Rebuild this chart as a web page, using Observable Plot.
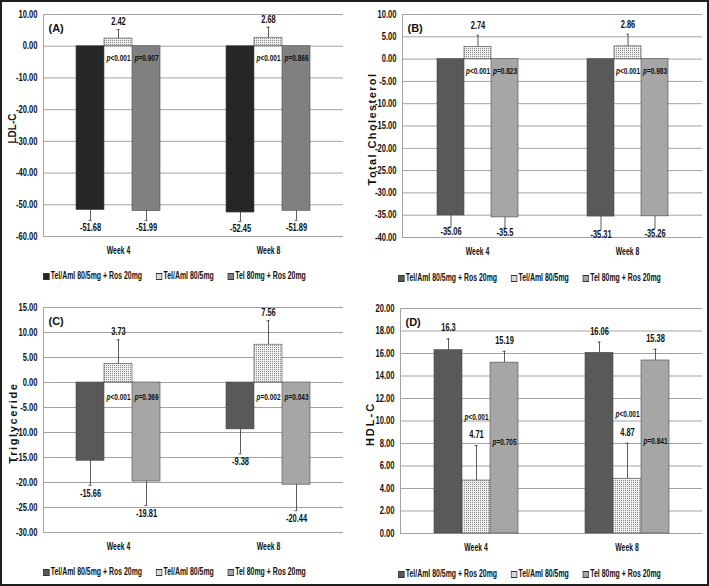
<!DOCTYPE html>
<html><head><meta charset="utf-8">
<script src="https://cdn.jsdelivr.net/npm/d3@7"></script>
<script src="https://cdn.jsdelivr.net/npm/@observablehq/plot@0.6"></script>
<style>
body{margin:0;background:#fff;}
#wrap{position:relative;width:709px;height:586px;background:#fff;overflow:hidden;}
.panel{position:absolute;}
.frameborder{position:absolute;left:0;top:0;width:709px;height:586px;border:2px solid #1e1e1e;box-sizing:border-box;pointer-events:none;}
.legend{position:absolute;height:12px;display:flex;justify-content:center;align-items:center;gap:22px;
  font-family:'Liberation Sans',Arial,sans-serif;font-weight:bold;font-size:11px;color:#111;white-space:nowrap;
  transform:scaleX(0.63);transform-origin:50% 50%;}
.legend .sw{display:inline-block;width:8px;height:5px;border:1px solid #333;margin-right:2px;vertical-align:middle;}
</style></head>
<body>
<svg width="0" height="0" style="position:absolute">
  <defs>
    <pattern id="dots" width="2" height="2" patternUnits="userSpaceOnUse">
      <rect width="2" height="2" fill="#eeeeee"></rect>
      <rect width="1" height="1" fill="#8c8c8c"></rect>
    </pattern>
  </defs>
</svg>
<div id="wrap"></div>
<script>
const weeks = ["Week 4", "Week 8"];
const series = ["Tel/Aml 80/5mg + Ros 20mg", "Tel/Aml 80/5mg", "Tel 80mg + Ros 20mg"];

// (A) LDL-C
const ldlValues = [[-51.68, 2.42, -51.99], [-52.45, 2.68, -51.89]];
const ldlErrors = [[3.3, 2.8, 3.0], [2.8, 3.3, 3.0]];
const ldlP2 = ["p<0.001", "p<0.001"];
const ldlP3 = ["p=0.907", "p=0.866"];
const ldlTicks = [10, 0, -10, -20, -30, -40, -50, -60];

// (B) Total Cholesterol
const tcValues = [[-35.06, 2.74, -35.5], [-35.31, 2.86, -35.26]];
const tcErrors = [[2.5, 2.6, 2.3], [3.0, 2.7, 2.7]];
const tcP2 = ["p<0.001", "p<0.001"];
const tcP3 = ["p=0.823", "p=0.983"];
const tcTicks = [10, 5, 0, -5, -10, -15, -20, -25, -30, -35, -40];

// (C) Triglyceride
const tgValues = [[-15.66, 3.73, -19.81], [-9.38, 7.56, -20.44]];
const tgErrors = [[4.9, 4.8, 4.8], [4.9, 4.8, 5.2]];
const tgP2 = ["p<0.001", "p=0.002"];
const tgP3 = ["p=0.369", "p=0.043"];
const tgTicks = [15, 10, 5, 0, -5, -10, -15, -20, -25, -30];

// (D) HDL-C
const hdlValues = [[16.3, 4.71, 15.19], [16.06, 4.87, 15.38]];
const hdlErrors = [[1.0, 3.1, 1.0], [0.95, 3.15, 1.0]];
const hdlP2 = ["p<0.001", "p<0.001"];
const hdlP3 = ["p=0.705", "p=0.841"];
const hdlTicks = [20, 18, 16, 14, 12, 10, 8, 6, 4, 2, 0];

const ARIAL = "'Liberation Sans',Arial,sans-serif";
const GRID = "#a3a3a3";
// horizontal condensing of texts (selector -> factor)
const SQUEEZE = [
  ['g[aria-label="y-axis tick label"] text', 0.76],
  ['g[aria-label="fx-axis tick label"] text', 0.62],
  ['text[aria-label="value"]', 0.68],
  ['text[aria-label="pvalue"]', 0.72]
];

const panels = [
  {id: "pA", title: "(A)", ylabel: "LDL-C", values: ldlValues, errors: ldlErrors, p2: ldlP2, p3: ldlP3, ticks: ldlTicks,
   left: 0, top: 0, width: 349, height: 260, ml: 43, mr: 6, po: 1.13, colors: ["#262626", "url(#dots)", "#808080"],
   posDy: -8, negDy: 7, pDy: 12, legendTop: 269, hdl: false, titleSize: 10, titleSpacing: 0, titleDx: -31},
  {id: "pB", title: "(B)", ylabel: "Total Cholesterol", values: tcValues, errors: tcErrors, p2: tcP2, p3: tcP3, ticks: tcTicks,
   left: 350, top: 0, width: 359, height: 261, ml: 52, mr: 7, po: 1.18, colors: ["#595959", "url(#dots)", "#a6a6a6"],
   posDy: -10, negDy: 5, pDy: 12, legendTop: 271, hdl: false, titleSize: 11, titleSpacing: 1.4, titleDx: -30},
  {id: "pC", title: "(C)", ylabel: "Triglyceride", values: tgValues, errors: tgErrors, p2: tgP2, p3: tgP3, ticks: tgTicks,
   left: 0, top: 293, width: 349, height: 263, ml: 43, mr: 6, po: 1.13, colors: ["#595959", "url(#dots)", "#a6a6a6"],
   posDy: -8, negDy: 8, pDy: 15, legendTop: 565, hdl: false, titleSize: 11, titleSpacing: 1.6, titleDx: -30},
  {id: "pD", title: "(D)", ylabel: "HDL-C", values: hdlValues, errors: hdlErrors, p2: hdlP2, p3: hdlP3, ticks: hdlTicks,
   left: 350, top: 294, width: 359, height: 263, ml: 50, mr: 7, po: 1.13, colors: ["#595959", "url(#dots)", "#a6a6a6"],
   posDy: -11, negDy: 8, pDy: 0, legendTop: 567, hdl: true, titleSize: 11, titleSpacing: 2, titleDx: -30}
];

const wrap = document.getElementById("wrap");

function drawPanel(cfg) {
  const rows = [];
  weeks.forEach((w, i) => series.forEach((s, j) => {
    const v = cfg.values[i][j], e = cfg.errors[i][j];
    rows.push({week: w, series: s, value: v, err: e, end: v >= 0 ? v + e : v - e});
  }));
  const pos = rows.filter(d => d.value >= 0);
  const neg = rows.filter(d => d.value < 0);
  const byKey = (w, s) => rows.find(d => d.week === w && d.series === s);
  const p2Rows = weeks.map((w, i) => {
    const r = byKey(w, series[1]);
    return {week: w, series: series[1], label: cfg.p2[i], y: cfg.hdl ? r.end : 0};
  });
  const p3Rows = weeks.map((w, i) => {
    const r = byKey(w, series[2]);
    return {week: w, series: series[2], label: cfg.p3[i], y: cfg.hdl ? r.value / 2 : 0};
  });
  const ticks = cfg.ticks;
  const domain = [d3.min(ticks), d3.max(ticks)];
  const fmt = d => d.toFixed(2);

  const chart = Plot.plot({
    width: cfg.width, height: cfg.height,
    marginLeft: cfg.ml, marginRight: cfg.mr, marginTop: 14, marginBottom: 24,
    style: {fontFamily: ARIAL, fontSize: "10px", fontWeight: "bold", color: "#111", background: "transparent", overflow: "visible"},
    fx: {domain: weeks, padding: 0},
    x: {domain: series, axis: null, paddingInner: 0, paddingOuter: cfg.po},
    y: {domain, axis: null},
    color: {domain: series, range: cfg.colors},
    marks: [
      Plot.gridY(ticks, {stroke: GRID, strokeOpacity: 1, strokeWidth: 1}),
      Plot.frame({anchor: "left", facetAnchor: "left", stroke: GRID, strokeOpacity: 1}),
      Plot.axisY(ticks, {tickSize: 0, tickPadding: 6, tickFormat: fmt, label: null}),
      Plot.axisFx({anchor: "bottom", tickSize: 0, tickPadding: 10, label: null, fontSize: 11}),
      Plot.barY(rows, {fx: "week", x: "series", y: "value", fill: "series", stroke: "#4a4a4a", strokeWidth: 0.6}),
      Plot.ruleX(rows, {fx: "week", x: "series", y1: "value", y2: "end", stroke: "#333", strokeWidth: 0.8}),
      Plot.tickY(rows, {fx: "week", x: "series", y: "end", stroke: "#333", strokeWidth: 0.8, insetLeft: 12.5, insetRight: 12.5}),
      Plot.text(pos, {fx: "week", x: "series", y: "end", text: d => String(d.value), dy: cfg.posDy, fontSize: 11, ariaLabel: () => "value"}),
      Plot.text(neg, {fx: "week", x: "series", y: "end", text: d => String(d.value), dy: cfg.negDy, fontSize: 11, ariaLabel: () => "value"}),
      Plot.text(p2Rows, {fx: "week", x: "series", y: "y", text: "label", fontSize: 9, dy: cfg.hdl ? -29 : cfg.pDy, ariaLabel: () => "pvalue"}),
      Plot.text(p3Rows, {fx: "week", x: "series", y: "y", text: "label", fontSize: 9, dy: cfg.hdl ? -6 : cfg.pDy, ariaLabel: () => "pvalue"}),
      Plot.text([{week: weeks[0], t: cfg.title}], {fx: "week", text: "t", frameAnchor: "top-left", textAnchor: "start", dx: 5, dy: 10, fontSize: 11}),
      Plot.text([{week: weeks[0], t: cfg.ylabel}], {fx: "week", text: "t", frameAnchor: "left", textAnchor: "middle", rotate: -90, dx: cfg.titleDx, dy: 3, fontSize: cfg.titleSize, ariaLabel: () => "ytitle"})
    ]
  });

  // italic "p" in p-value labels
  chart.querySelectorAll('text[aria-label="pvalue"]').forEach(t => {
    const s = t.textContent;
    t.textContent = "";
    const ts = document.createElementNS("http://www.w3.org/2000/svg", "tspan");
    ts.setAttribute("font-style", "italic");
    ts.textContent = s.slice(0, 1);
    t.appendChild(ts);
    t.appendChild(document.createTextNode(s.slice(1)));
  });
  chart.querySelectorAll('text[aria-label="ytitle"]').forEach(t => {
    t.setAttribute("letter-spacing", cfg.titleSpacing);
  });

  const div = document.createElement("div");
  div.className = "panel";
  div.id = cfg.id;
  div.style.left = cfg.left + "px";
  div.style.top = cfg.top + "px";
  div.appendChild(chart);
  wrap.appendChild(div);

  // narrow (condensed) look for the numeric and category texts
  for (const [sel, k] of SQUEEZE) {
    chart.querySelectorAll(sel).forEach(t => {
      const L = t.getComputedTextLength();
      if (L > 0) {
        t.setAttribute("textLength", (L * k).toFixed(2));
        t.setAttribute("lengthAdjust", "spacingAndGlyphs");
      }
    });
  }

  const lg = document.createElement("div");
  lg.className = "legend";
  lg.style.left = cfg.left + "px";
  lg.style.width = cfg.width + "px";
  lg.style.top = cfg.legendTop + "px";
  const swatchFill = [cfg.colors[0], "#d8d8d8", cfg.colors[2]];
  series.forEach((s, j) => {
    const item = document.createElement("span");
    const sw = document.createElement("span");
    sw.className = "sw";
    sw.style.background = swatchFill[j];
    item.appendChild(sw);
    item.appendChild(document.createTextNode(s));
    lg.appendChild(item);
  });
  wrap.appendChild(lg);
}

panels.forEach(drawPanel);
const b = document.createElement("div");
b.className = "frameborder";
wrap.appendChild(b);
</script>
</body></html>
